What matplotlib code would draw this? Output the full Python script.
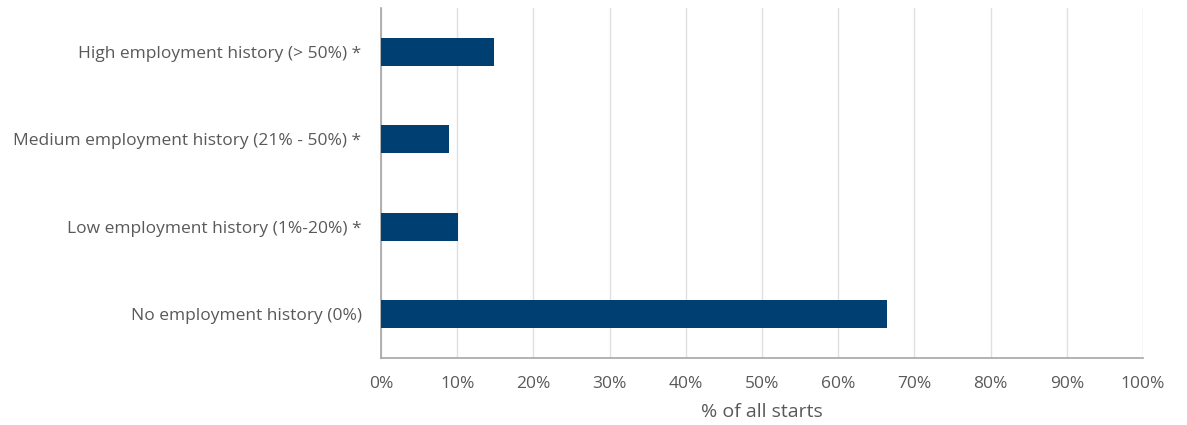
import matplotlib
matplotlib.use("Agg")
import matplotlib.pyplot as plt
from matplotlib.ticker import FuncFormatter

categories = [
    "No employment history (0%)",
    "Low employment history (1%-20%) *",
    "Medium employment history (21% - 50%) *",
    "High employment history (> 50%) *",
]
values = [66.4, 10.05, 8.9, 14.8]

plt.rcParams['font.family'] = ['Open Sans', 'DejaVu Sans']
text_color = '#595959'

fig = plt.figure(figsize=(11.87, 4.25), dpi=100)
ax = fig.add_axes([0.321, 0.1576, 0.642, 0.8236])

ax.barh(range(len(categories)), values, height=0.32, color='#003f72', zorder=3)
ax.set_xlim(0, 100)
ax.set_ylim(-0.5, len(categories) - 0.5)
ax.set_xticks(range(0, 101, 10))
ax.xaxis.set_major_formatter(FuncFormatter(lambda v, p: f"{int(v)}%"))
ax.set_yticks(range(len(categories)))
ax.set_yticklabels(categories)
ax.grid(axis='x', color='#e0e0e0', linewidth=1, zorder=0)
for s in ['top', 'right']:
    ax.spines[s].set_visible(False)
for s in ['left', 'bottom']:
    ax.spines[s].set_color('#a6a6a6')
    ax.spines[s].set_linewidth(1.2)
ax.tick_params(axis='both', length=0, labelsize=12.5, labelcolor=text_color)
ax.tick_params(axis='x', pad=13)
ax.tick_params(axis='y', pad=14)
ax.set_xlabel("% of all starts", fontsize=14, color=text_color, labelpad=8)

fig.savefig("out.png", dpi=100)
